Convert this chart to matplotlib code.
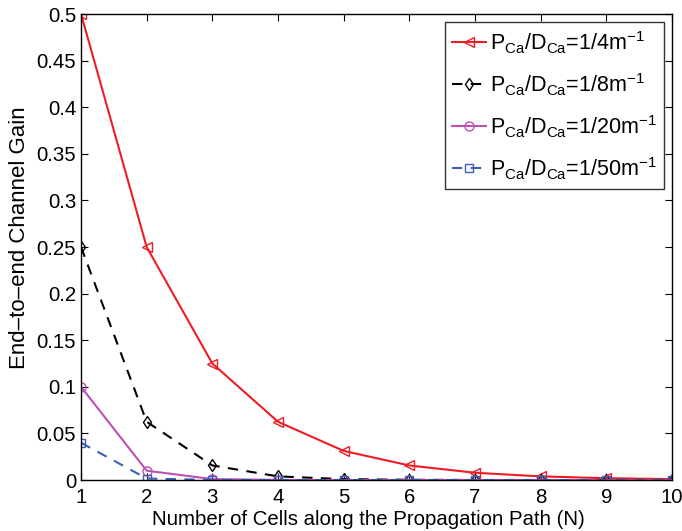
import matplotlib
matplotlib.use("Agg")
import matplotlib.pyplot as plt

plt.rcParams['font.family'] = ['Liberation Sans', 'DejaVu Sans']
plt.rcParams['mathtext.fontset'] = 'custom'
plt.rcParams['mathtext.rm'] = 'Liberation Sans'
plt.rcParams['mathtext.it'] = 'Liberation Sans'

# Number of cells along the path
cells = [1, 2, 3, 4, 5, 6, 7, 8, 9, 10]

# End-to-end channel gain for each P_Ca/D_Ca ratio
gain_4 = [0.5, 0.25, 0.125, 0.0625, 0.03125, 0.015625, 0.0078125, 0.00390625, 0.001953, 0.000977]
gain_8 = [0.25, 0.0625, 0.015625, 0.00390625, 0.000977, 0.000244, 0.000061, 0.0000153, 0.0000038, 0.00000095]
gain_20 = [0.1, 0.01, 0.001, 0.0001, 0.00001, 0.000001, 0.0000001, 0.00000001, 0.000000001, 0.0000000001]
gain_50 = [0.04, 0.0016, 0.000064, 0.00000256, 0.0000001, 0.000000004, 0.0, 0.0, 0.0, 0.0]

labels = [
    r"P$_{\mathregular{Ca}}$/D$_{\mathregular{Ca}}$=1/4m$^{\mathregular{-1}}$",
    r"P$_{\mathregular{Ca}}$/D$_{\mathregular{Ca}}$=1/8m$^{\mathregular{-1}}$",
    r"P$_{\mathregular{Ca}}$/D$_{\mathregular{Ca}}$=1/20m$^{\mathregular{-1}}$",
    r"P$_{\mathregular{Ca}}$/D$_{\mathregular{Ca}}$=1/50m$^{\mathregular{-1}}$",
]

fs = 14.7

fig = plt.figure(figsize=(6.82, 5.31), dpi=100)
ax = fig.add_axes([0.1188, 0.096, 0.8665, 0.8776])

ax.plot(cells, gain_4, color='#ee1c25', linestyle='-', linewidth=1.5,
        marker='<', markersize=6.5, markerfacecolor='none', markeredgewidth=1.0,
        label=labels[0])
ax.plot(cells, gain_8, color='black', linestyle=(0, (5, 4)), linewidth=1.5,
        marker='d', markersize=6.5, markerfacecolor='none', markeredgewidth=1.0,
        label=labels[1])
ax.plot(cells, gain_20, color='#bf4fb3', linestyle='-', linewidth=1.5,
        marker='o', markersize=6.5, markerfacecolor='none', markeredgewidth=1.0,
        label=labels[2])
ax.plot(cells, gain_50, color='#3a5fb5', linestyle=(0, (5, 4)), linewidth=1.5,
        marker='s', markersize=5.5, markerfacecolor='none', markeredgewidth=1.0,
        label=labels[3])

ax.set_xlim(1, 10)
ax.set_ylim(0, 0.5)
ax.set_xticks(cells)
ax.set_yticks([0, 0.05, 0.1, 0.15, 0.2, 0.25, 0.3, 0.35, 0.4, 0.45, 0.5])
ax.set_yticklabels(['0', '0.05', '0.1', '0.15', '0.2', '0.25', '0.3', '0.35', '0.4', '0.45', '0.5'])
ax.tick_params(axis='both', direction='in', top=True, right=True, labelsize=fs,
               length=5, width=0.8)
ax.tick_params(axis='x', pad=6)
ax.tick_params(axis='y', pad=3.5)
for s in ax.spines.values():
    s.set_linewidth(1.0)

ax.set_xlabel('Number of Cells along the Propagation Path (N)', fontsize=fs)
ax.set_ylabel('End–to–end Channel Gain', fontsize=16)
ax.xaxis.set_label_coords(0.486, -0.064)
ax.yaxis.set_label_coords(-0.086, 0.52)

leg = ax.legend(loc='upper right', fontsize=15.5, frameon=True, fancybox=False,
                edgecolor='black', borderpad=0.35, handlelength=1.55, handletextpad=0.2,
                labelspacing=0.72, borderaxespad=0.35)
leg.get_frame().set_linewidth(1.0)

fig.savefig('out.png', dpi=100)
